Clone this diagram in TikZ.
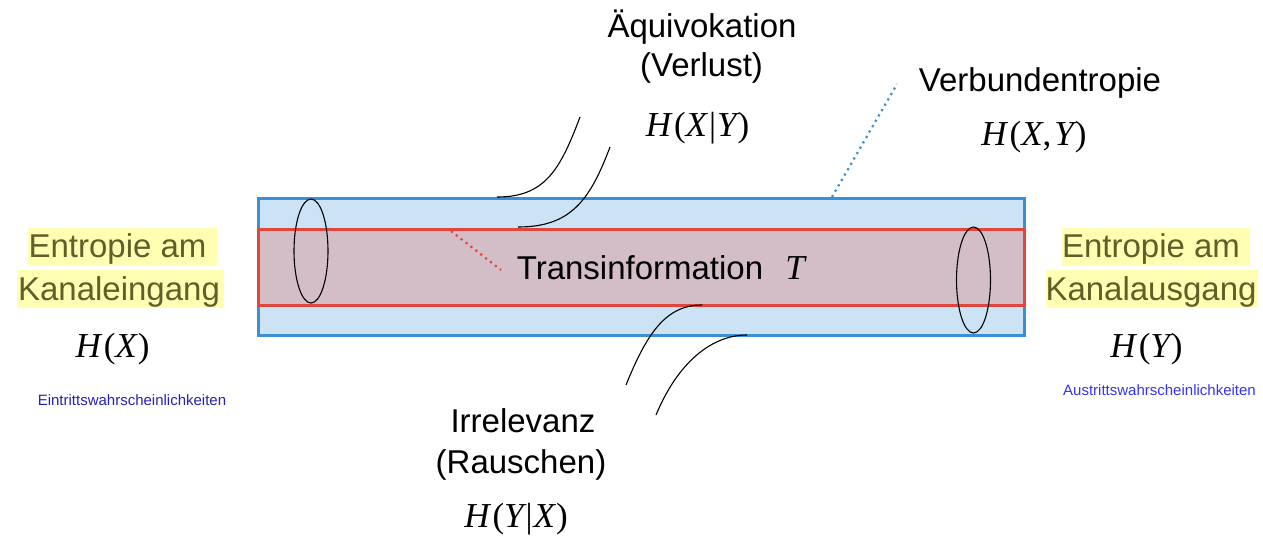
\documentclass[tikz,border=0pt]{standalone}
\usepackage{fontspec}
\setmainfont{Liberation Sans}
\newfontfamily\mserif{Liberation Serif}
\newcommand\mv[1]{{\itshape #1}}
\begin{document}
\begin{tikzpicture}[x=1pt,y=-1pt,
  lbl/.style={anchor=base,inner sep=0pt,font=\fontsize{33}{36}\selectfont,text=black},
  hl/.style={anchor=base,inner sep=0pt,font=\fontsize{33}{36}\selectfont,text=olive!60!black},
  mth/.style={anchor=base,inner sep=0pt,font=\mserif\fontsize{35}{38}\selectfont},
  small/.style={anchor=base,inner sep=0pt,font=\fontsize{15}{17}\selectfont},
  wire/.style={draw=black,line width=1.1pt},
  ring/.style={draw=black,line width=1.1pt},
  dots/.style={line width=2.2pt,dash pattern=on 2.2pt off 4pt}]
\definecolor{bluestroke}{HTML}{3B8FD5}
\definecolor{bluefill}{HTML}{CCE2F5}
\definecolor{redstroke}{HTML}{E0473C}
\definecolor{redfill}{HTML}{D3BEC7}
\definecolor{hlyellow}{HTML}{FFFFB3}
\definecolor{darkbluetext}{HTML}{2424B0}
\definecolor{bluetext}{HTML}{3535F0}
\useasboundingbox (0,0) rectangle (1263,544);
\fill[white] (0,0) rectangle (1263,544);
% channel
\draw[draw=bluestroke,fill=bluefill,line width=3pt] (258,198) rectangle (1024,335);
\draw[draw=redstroke,fill=redfill,line width=3pt] (258,229) rectangle (1024,305);
% rings
\draw[ring] (311,251) ellipse [x radius=17, y radius=52];
\draw[ring] (973.5,280) ellipse [x radius=17, y radius=53];
% curves
\coordinate (c1a) at (497,197); \coordinate (c1b) at (580,117);
\coordinate (c2a) at (518,227); \coordinate (c2b) at (610,147);
\coordinate (c3a) at (702,305); \coordinate (c3b) at (626,385);
\coordinate (c4a) at (747,335); \coordinate (c4b) at (656,415);
\draw[wire] (c1a) .. controls (545,197) and (560,170) .. (c1b);
\draw[wire] (c2a) .. controls (571,227) and (590,200) .. (c2b);
\draw[wire] (c3a) .. controls (666,305) and (647,333) .. (c3b);
\draw[wire] (c4a) .. controls (712,335) and (678,362) .. (c4b);
% dotted pointers
\coordinate (r1) at (451,231); \coordinate (r2) at (501,270);
\coordinate (b1) at (832,197); \coordinate (b2) at (897,84);
\draw[dots,redstroke] (r1) -- (r2);
\draw[dots,bluestroke] (b1) -- (b2);
% highlights
\fill[hlyellow] (28,228) rectangle (217,266);
\fill[hlyellow] (17,270) rectangle (224,308);
\fill[hlyellow] (1062,228) rectangle (1250,266);
\fill[hlyellow] (1046,270) rectangle (1258,308);
% texts
\node[lbl] (aq) at (702,37) {Äquivokation};
\node[lbl] (ve) at (701.5,76) {(Verlust)};
\node[mth] (hxy) at (697.5,136) {\mv{H}\hspace{3pt}(\mv{X}\hspace{2pt}|\hspace{1pt}\mv{Y}\hspace{1pt})};
\node[lbl] (vb) at (1040,91) {Verbundentropie};
\node[mth] (hxyj) at (1034,145) {\mv{H}\hspace{3pt}(\mv{X},\hspace{3pt}\mv{Y}\hspace{1pt})};
\node[lbl] (ti) at (640,279) {Transinformation};
\node[mth] (tt) at (795,279) {\mv{T}};
\node[hl] (el1) at (117.5,257) {Entropie am};
\node[hl] (el2) at (119,300) {Kanaleingang};
\node[mth] (hx) at (112.5,357) {\mv{H}\hspace{3pt}(\mv{X}\hspace{1pt})};
\node[small,text=darkbluetext] (ew) at (132,405) {Eintrittswahrscheinlichkeiten};
\node[hl] (er1) at (1151,257) {Entropie am};
\node[hl] (er2) at (1151,300) {Kanalausgang};
\node[mth] (hy) at (1146.5,357) {\mv{H}\hspace{3pt}(\mv{Y}\hspace{1pt})};
\node[small,text=bluetext] (aw) at (1159.5,395) {Austrittswahrscheinlichkeiten};
\node[lbl] (ir) at (523,432) {Irrelevanz};
\node[lbl] (ra) at (521,473) {(Rauschen)};
\node[mth] (hyx) at (516,527) {\mv{H}\hspace{3pt}(\mv{Y}\hspace{2pt}|\hspace{1pt}\mv{X}\hspace{1pt})};
\end{tikzpicture}
\end{document}
